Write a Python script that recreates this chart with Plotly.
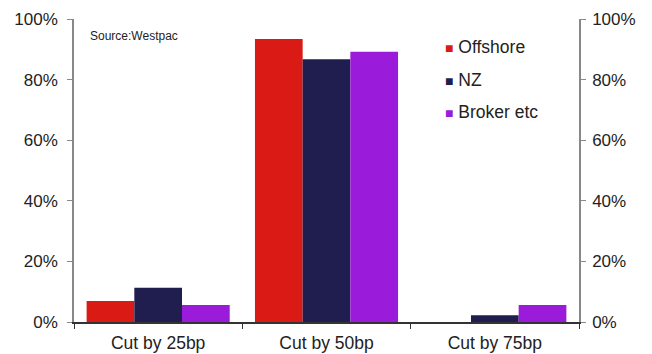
import plotly.graph_objects as go

categories = ["Cut by 25bp", "Cut by 50bp", "Cut by 75bp"]
series_names = ["Offshore", "NZ", "Broker etc"]
offshore = [0.069, 0.934, 0.0]
nz = [0.113, 0.867, 0.022]
broker = [0.056, 0.892, 0.056]
colors = ["#DA1A14", "#1F1E4E", "#9A1BD9"]
source_text = "Source:Westpac"

FONT = "Liberation Sans, Arial, sans-serif"

fig = go.Figure()
for name, vals, col in zip(series_names, [offshore, nz, broker], colors):
    fig.add_trace(go.Bar(x=categories, y=vals, name=name, marker_color=col,
                         marker_line_width=0, showlegend=False))

fig.update_layout(
    width=652, height=354,
    margin=dict(l=74, r=73, t=19, b=32),
    paper_bgcolor="white", plot_bgcolor="white",
    barmode="group", bargap=0.15, bargroupgap=0,
    font=dict(family=FONT, size=16, color="#222"),
    xaxis=dict(showline=True, linecolor="#333", linewidth=1.5,
               ticks="outside", tickson="boundaries", ticklen=5, tickcolor="#333",
               tickfont=dict(size=17.5), showgrid=False, ticklabelstandoff=4,
               automargin=False),
    yaxis=dict(range=[0, 1], dtick=0.2, tickformat=".0%", showline=True,
               linecolor="#888", linewidth=1.5, ticks="outside", ticklen=5,
               tickcolor="#888", showgrid=False, zeroline=False, tickfont=dict(size=17),
               ticklabelstandoff=6, automargin=False),
    yaxis2=dict(range=[0, 1], dtick=0.2, tickformat=".0%", overlaying="y", side="right",
                showline=True, linecolor="#888", linewidth=1.5, ticks="outside",
                ticklen=5, tickcolor="#888", showgrid=False, zeroline=False,
                tickfont=dict(size=17), ticklabelstandoff=3, automargin=False),
)

# invisible trace to anchor right axis
fig.add_trace(go.Scatter(x=categories, y=[None] * len(categories), yaxis="y2",
                         showlegend=False, hoverinfo="skip"))

fig.add_annotation(text=source_text, xref="paper", yref="paper", x=0.027, y=0.945,
                   xanchor="left", yanchor="middle", showarrow=False,
                   font=dict(size=12, color="#222"))

for i, (name, col) in enumerate(zip(series_names, colors)):
    fig.add_annotation(
        text=f"<span style='color:{col}; font-size:14px'>■</span> {name}",
        xref="paper", yref="paper", x=0.73, y=0.908 - i * 0.108,
        xanchor="left", yanchor="middle", showarrow=False,
        font=dict(size=17.5, color="#222"))

fig.write_html("out.html")
